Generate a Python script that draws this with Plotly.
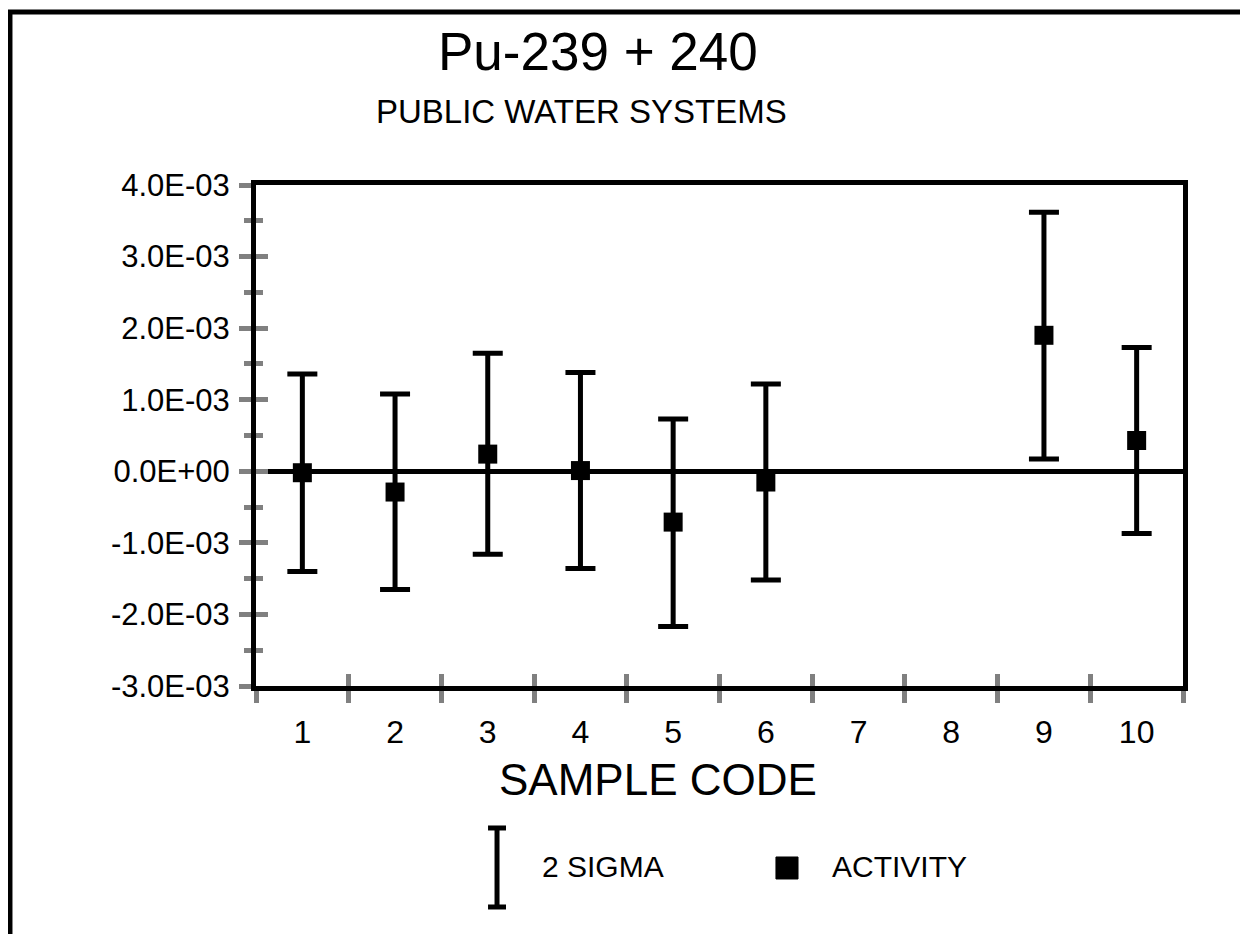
"""Pu-239 + 240 activity by sample code, public water systems."""

import plotly.graph_objects as go

sample_codes = ["1", "2", "3", "4", "5", "6", "7", "8", "9", "10"]
activity = [-0.00002, -0.00029, 0.00024, 0.00001, -0.00071, -0.00015, None, None, 0.00190, 0.00043]
sigma_plus = [0.00138, 0.00137, 0.00141, 0.00137, 0.00144, 0.00137, None, None, 0.00172, 0.00130]
sigma_minus = [0.00138, 0.00136, 0.00140, 0.00137, 0.00146, 0.00137, None, None, 0.00173, 0.00130]

y_tick_vals = [-0.003, -0.002, -0.001, 0.0, 0.001, 0.002, 0.003, 0.004]
y_tick_text = ["-3.0E-03", "-2.0E-03", "-1.0E-03", "0.0E+00",
               "1.0E-03", "2.0E-03", "3.0E-03", "4.0E-03"]
y_minor_vals = [-0.0025, -0.0015, -0.0005, 0.0005, 0.0015, 0.0025, 0.0035]

FONT = "Arial, Liberation Sans, sans-serif"
TICK_GRAY = "#808080"

fig = go.Figure()

fig.add_trace(go.Scatter(
    x=sample_codes,
    y=activity,
    mode="markers",
    marker=dict(symbol="square", size=19, color="black"),
    error_y=dict(
        type="data",
        symmetric=False,
        array=sigma_plus,
        arrayminus=sigma_minus,
        color="black",
        thickness=5,
        width=15,
    ),
    showlegend=False,
))

# invisible trace for the overlay axes that draw the inner half of the ticks
fig.add_trace(go.Scatter(
    x=sample_codes,
    y=[None] * len(sample_codes),
    xaxis="x2",
    yaxis="y2",
    showlegend=False,
    hoverinfo="skip",
))

axis_common = dict(categoryorder="array", categoryarray=sample_codes,
                   range=[-0.5, 9.5], tickson="boundaries")

# page body adds an 8px margin, so the figure is 16px smaller than the window
fig.update_layout(
    width=1232,
    height=926,
    margin=dict(l=248, r=57, t=177, b=248),
    paper_bgcolor="white",
    plot_bgcolor="white",
    font=dict(family=FONT, color="black"),
    xaxis=dict(
        **axis_common,
        type="category",
        showgrid=False,
        showline=True,
        linecolor="black",
        linewidth=5,
        mirror=True,
        ticks="outside",
        ticklen=12,
        tickwidth=5,
        tickcolor=TICK_GRAY,
        tickfont=dict(size=32),
        ticklabelstandoff=14,
    ),
    yaxis=dict(
        range=[-0.003, 0.004],
        tickmode="array",
        tickvals=y_tick_vals,
        ticktext=y_tick_text,
        showgrid=False,
        showline=True,
        linecolor="black",
        linewidth=5,
        mirror=True,
        zeroline=True,
        zerolinecolor="black",
        zerolinewidth=5,
        ticks="outside",
        ticklen=12,
        tickwidth=5,
        tickcolor=TICK_GRAY,
        tickfont=dict(size=31),
        ticklabelstandoff=3,
        minor=dict(tickvals=y_minor_vals, ticks="outside", ticklen=7,
                   tickwidth=5, tickcolor=TICK_GRAY),
    ),
    xaxis2=dict(
        **axis_common,
        type="category",
        overlaying="x",
        showgrid=False,
        showline=False,
        zeroline=False,
        ticks="inside",
        ticklen=12,
        tickwidth=5,
        tickcolor=TICK_GRAY,
        showticklabels=False,
    ),
    yaxis2=dict(
        range=[-0.003, 0.004],
        overlaying="y",
        tickmode="array",
        tickvals=y_tick_vals,
        showgrid=False,
        showline=False,
        zeroline=False,
        ticks="inside",
        ticklen=12,
        tickwidth=5,
        tickcolor=TICK_GRAY,
        showticklabels=False,
        minor=dict(tickvals=y_minor_vals, ticks="inside", ticklen=7,
                   tickwidth=5, tickcolor=TICK_GRAY),
    ),
    showlegend=False,
)

# titles
fig.add_annotation(text="Pu-239 + 240", xref="paper", yref="paper",
                   x=0.369, y=1.2655, showarrow=False,
                   font=dict(size=53), xanchor="center", yanchor="middle")
fig.add_annotation(text="PUBLIC WATER SYSTEMS", xref="paper", yref="paper",
                   x=0.351, y=1.1477, showarrow=False,
                   font=dict(size=33), xanchor="center", yanchor="middle")
fig.add_annotation(text="SAMPLE CODE", xref="paper", yref="paper",
                   x=0.4337, y=-0.1876, showarrow=False,
                   font=dict(size=44), xanchor="center", yanchor="middle")

# hand-drawn legend
fig.add_shape(type="line", xref="paper", yref="paper",
              x0=0.26, x1=0.26, y0=-0.4411, y1=-0.2834,
              line=dict(color="black", width=5))
for yy in (-0.4411, -0.2834):
    fig.add_shape(type="line", xref="paper", yref="paper",
                  x0=0.2503, x1=0.2697, y0=yy, y1=yy,
                  line=dict(color="black", width=5))
fig.add_annotation(text="2 SIGMA", xref="paper", yref="paper",
                   x=0.3064, y=-0.3593, showarrow=False,
                   font=dict(size=30), xanchor="left", yanchor="middle")
fig.add_shape(type="rect", xref="paper", yref="paper",
              x0=0.5609, x1=0.5847, y0=-0.3852, y1=-0.3413,
              fillcolor="black", line=dict(color="black", width=1))
fig.add_annotation(text="ACTIVITY", xref="paper", yref="paper",
                   x=0.6192, y=-0.3593, showarrow=False,
                   font=dict(size=30), xanchor="left", yanchor="middle")

# outer frame (runs past the right and bottom edges of the page)
fig.add_shape(type="rect", xref="paper", yref="paper",
              x0=-0.2654, x1=1.2, y0=-0.8, y1=1.3453,
              line=dict(color="black", width=5))

fig.write_html("out.html")
